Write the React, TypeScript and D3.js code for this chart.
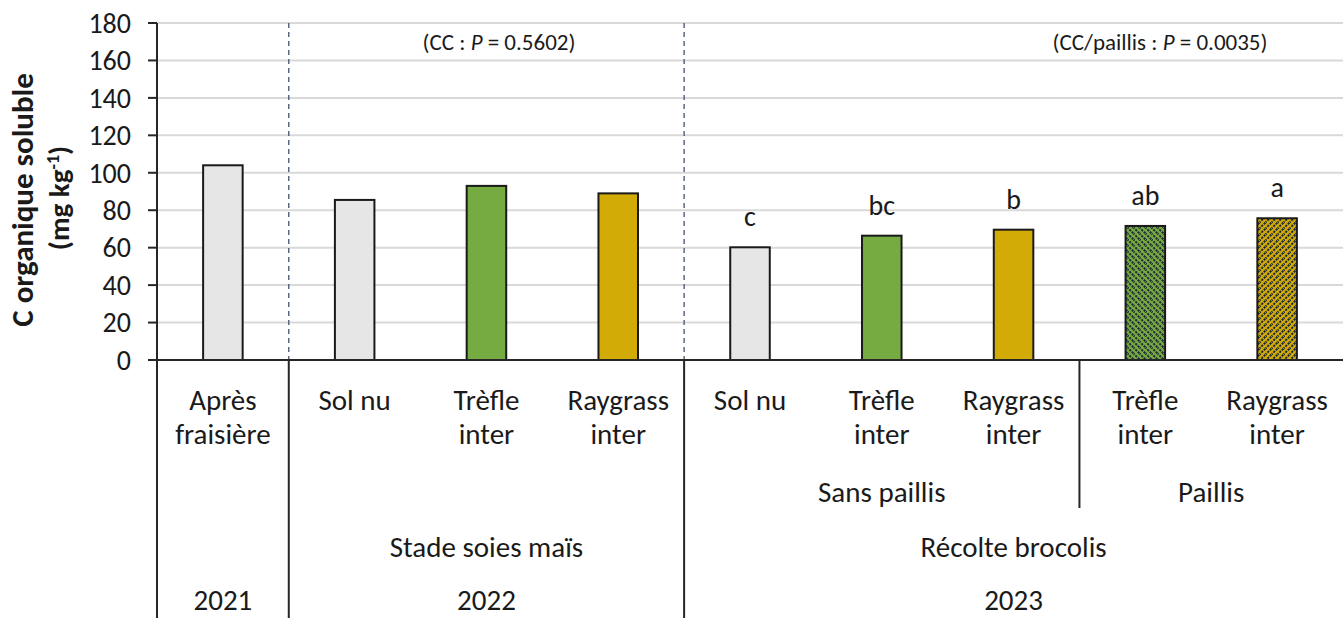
import React from "react";
import * as d3 from "d3";

const categories = ["Après fraisière", "Sol nu", "Trèfle inter", "Raygrass inter", "Sol nu", "Trèfle inter", "Raygrass inter", "Trèfle inter", "Raygrass inter"];
const categoryLines = [["Après", "fraisière"], ["Sol nu"], ["Trèfle", "inter"], ["Raygrass", "inter"], ["Sol nu"], ["Trèfle", "inter"], ["Raygrass", "inter"], ["Trèfle", "inter"], ["Raygrass", "inter"]];
const values = [104, 85.5, 93, 89, 60.2, 66.4, 69.6, 71.6, 75.7];
const fillKinds = ["gray", "gray", "green", "yellow", "gray", "green", "yellow", "greenHatch", "yellowHatch"];
const letters = ["", "", "", "", "c", "bc", "b", "ab", "a"];
const yTicks = [0, 20, 40, 60, 80, 100, 120, 140, 160, 180];
// level 2: sub-groups [startIndex, endIndex, label]
const level2: [number, number, string][] = [[4, 6, "Sans paillis"], [7, 8, "Paillis"]];
const level3: [number, number, string][] = [[1, 3, "Stade soies maïs"], [4, 8, "Récolte brocolis"]];
const level4: [number, number, string][] = [[0, 0, "2021"], [1, 3, "2022"], [4, 8, "2023"]];

const W = 1343, H = 618;
const left = 157, right = 1343, top = 23, bottom = 360;
const font = "Carlito, Lato, 'Noto Sans', sans-serif";

export default function App() {
  const x = d3.scaleBand<number>().domain(d3.range(categories.length)).range([left, right]).paddingInner(0.7).paddingOuter(0.35);
  const y = d3.scaleLinear().domain([0, 180]).range([bottom, top]);
  const step = x.step();
  const boundary = (i: number) => left + step * i;
  const fills: Record<string, string> = {
    gray: "#e6e6e6",
    green: "#76ab41",
    yellow: "#d3ab06",
    greenHatch: "url(#hatchGreen)",
    yellowHatch: "url(#hatchYellow)",
  };
  const center = (a: number, b: number) => (boundary(a) + boundary(b + 1)) / 2;
  const lblSize = 29;
  return (
    <svg width={W} height={H} style={{ position: "absolute", left: 0, top: 0, fontFamily: font }}>
      <defs>
        <pattern id="hatchGreen" width="6" height="6" patternUnits="userSpaceOnUse">
          <rect width="6" height="6" fill="#76ab41" />
          <path d="M-1,-1 L7,7 M-1,5 L1,7 M5,-1 L7,1" stroke="#1e2a33" strokeWidth="2" strokeDasharray="2.2,1.2" />
        </pattern>
        <pattern id="hatchYellow" width="6" height="6" patternUnits="userSpaceOnUse">
          <rect width="6" height="6" fill="#d3ab06" />
          <path d="M-1,7 L7,-1 M-1,1 L1,-1 M5,7 L7,5" stroke="#1e2a33" strokeWidth="2" strokeDasharray="2.2,1.2" />
        </pattern>
      </defs>
      <rect width={W} height={H} fill="#fff" />
      {/* gridlines */}
      {yTicks.filter((t) => t > 0).map((t) => (
        <line key={t} x1={left} x2={right} y1={y(t)} y2={y(t)} stroke="#d9d9d9" strokeWidth={2} />
      ))}
      {/* dashed separators */}
      {[1, 4].map((b) => (
        <line key={b} x1={boundary(b)} x2={boundary(b)} y1={top} y2={bottom} stroke="#44546a" strokeWidth={1.3} strokeDasharray="5,4" />
      ))}
      {/* bars */}
      {values.map((v, i) => (
        <rect key={i} x={x(i)!} y={y(v)} width={x.bandwidth()} height={y(0) - y(v)} fill={fills[fillKinds[i]]} stroke="#1a1a1a" strokeWidth={2} />
      ))}
      {/* letters */}
      {values.map((v, i) => letters[i] ? (
        <text key={i} x={x(i)! + x.bandwidth() / 2} y={y(v) - 21} textAnchor="middle" fontSize={28} fill="#1a1a1a">{letters[i]}</text>
      ) : null)}
      {/* annotations */}
      <text x={499} y={50} textAnchor="middle" fontSize={23} fill="#1a1a1a">
        (CC : <tspan fontStyle="italic">P</tspan> = 0.5602)
      </text>
      <text x={1160} y={50} textAnchor="middle" fontSize={23} fill="#1a1a1a">
        (CC/paillis : <tspan fontStyle="italic">P</tspan> = 0.0035)
      </text>
      {/* y axis */}
      <line x1={left} x2={left} y1={top} y2={H} stroke="#262626" strokeWidth={2} />
      {yTicks.map((t) => (
        <g key={t}>
          <line x1={left - 9} x2={left} y1={y(t)} y2={y(t)} stroke="#262626" strokeWidth={2} />
          <text x={left - 26} y={y(t)} dy="0.35em" textAnchor="end" fontSize={28} fill="#1a1a1a">{t}</text>
        </g>
      ))}
      {/* x axis */}
      <line x1={left - 9} x2={right} y1={bottom} y2={bottom} stroke="#262626" strokeWidth={2} />
      {[1, 4].map((b) => (
        <line key={b} x1={boundary(b)} x2={boundary(b)} y1={bottom} y2={H} stroke="#262626" strokeWidth={2} />
      ))}
      <line x1={boundary(7)} x2={boundary(7)} y1={bottom} y2={508} stroke="#262626" strokeWidth={2} />
      {/* category labels */}
      {categoryLines.map((lines, i) => (
        <text key={i} x={x(i)! + x.bandwidth() / 2} textAnchor="middle" fontSize={lblSize} fill="#1a1a1a">
          {lines.map((l, j) => (
            <tspan key={j} x={x(i)! + x.bandwidth() / 2} y={410 + j * 34}>{l}</tspan>
          ))}
        </text>
      ))}
      {level2.map(([a, b, l]) => (
        <text key={l} x={center(a, b)} y={502} textAnchor="middle" fontSize={lblSize} fill="#1a1a1a">{l}</text>
      ))}
      {level3.map(([a, b, l]) => (
        <text key={l} x={center(a, b)} y={557} textAnchor="middle" fontSize={lblSize} fill="#1a1a1a">{l}</text>
      ))}
      {level4.map(([a, b, l]) => (
        <text key={l} x={center(a, b)} y={610} textAnchor="middle" fontSize={lblSize} fill="#1a1a1a">{l}</text>
      ))}
      {/* y title */}
      <text transform={`translate(33,200) rotate(-90)`} textAnchor="middle" fontSize={31} fontWeight="bold" fill="#1a1a1a">
        C organique soluble
      </text>
      <text transform={`translate(69,198) rotate(-90)`} textAnchor="middle" fontSize={29} fontWeight="bold" fill="#1a1a1a">
        (mg kg<tspan dy={-10} fontSize={18}>-1</tspan><tspan dy={10}>)</tspan>
      </text>
    </svg>
  );
}
